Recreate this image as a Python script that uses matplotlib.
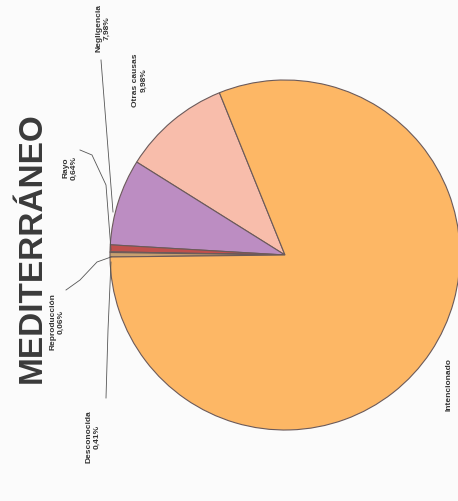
import matplotlib.pyplot as plt

plt.rcParams['font.family'] = ['Liberation Sans', 'DejaVu Sans']

# Causas de incendios - Mediterráneo (gráfico girado 90°)
CAUSAS = ["Otras causas", "Negligencia", "Rayo", "Reproducción", "Desconocida", "Intencionado"]
PORCENTAJES = [9.98, 7.98, 0.64, 0.06, 0.41, 80.93]
ETIQUETAS = ["Otras causas\n9,98%", "Negligencia\n7,98%", "Rayo\n0,64%",
             "Reproducción\n0,06%", "Desconocida\n0,41%", "Intencionado"]
COLORES = ["#F8BDAB", "#BC8DC2", "#C0504D", "#9BBB59", "#C8A070", "#FDB765"]

W, H = 458, 501

fig = plt.figure(figsize=(W / 100, H / 100), dpi=100)
fig.patch.set_facecolor("#FBFBFB")
ax = fig.add_axes([0, 0, 1, 1])

centro = (285, H - 255)
ax.pie(PORCENTAJES, colors=COLORES, startangle=112, counterclock=True,
       center=centro, radius=175, frame=True,
       wedgeprops=dict(edgecolor="#6b5a5a", linewidth=0.8))
ax.set_xlim(0, W)
ax.set_ylim(0, H)
ax.set_aspect("equal")
ax.axis("off")

estilo = dict(rotation=90, ha="center", va="center", fontsize=6,
              fontweight="bold", color="#333333", linespacing=1.3)

# posiciones de las etiquetas (en píxeles de la imagen, y hacia abajo)
pos = {
    "Otras causas": (140, 80),
    "Negligencia": (103, 28),
    "Rayo": (70, 168),
    "Reproducción": (57, 322),
    "Desconocida": (93, 437),
    "Intencionado": (449, 385),
}
for causa, texto in zip(CAUSAS, ETIQUETAS):
    x, y = pos[causa]
    ax.text(x, H - y, texto, **estilo)

# líneas guía
lineas = [
    ([101, 113], [60, 212]),
    ([80, 92, 106, 111], [150, 155, 185, 250]),
    ([66, 80, 97, 111], [290, 280, 262, 257]),
    ([106, 108, 111], [398, 330, 262]),
]
for xs, ys in lineas:
    ax.plot(xs, [H - v for v in ys], color="#555555", linewidth=0.6)

ax.text(32, H - 248, "MEDITERRÁNEO", rotation=90, ha="center", va="center",
        fontsize=24, fontweight="bold", color="#3a3a3a")

fig.savefig("out.png", dpi=100, facecolor=fig.get_facecolor())
